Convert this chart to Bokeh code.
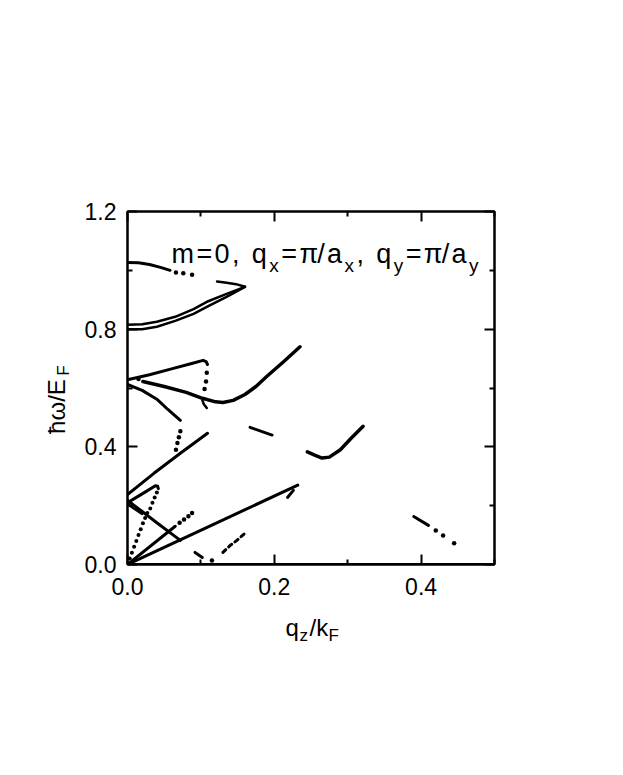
from math import pi
from bokeh.plotting import figure
from bokeh.layouts import row, column
from bokeh.models import Range1d, LinearAxis, FixedTicker, Label, PrintfTickFormatter
from bokeh.embed import file_html
from bokeh.resources import INLINE

# ---------------- data (q_z/k_F , hbar*omega/E_F) ----------------
top_q = [0.0, 0.015, 0.03, 0.045, 0.058]
top_w = [1.027, 1.026, 1.02, 1.01, 1.0]
top_dots_q = [0.066, 0.076, 0.088]
top_dots_w = [0.993, 0.99, 0.985]
tip_q = [0.122, 0.135, 0.148, 0.160]
tip_w = [0.962, 0.958, 0.953, 0.944]

pairA_q = [0.0, 0.02, 0.04, 0.065, 0.09, 0.11, 0.135, 0.16]
pairA_w = [0.815, 0.817, 0.825, 0.842, 0.868, 0.895, 0.92, 0.944]
pairB_q = [0.0, 0.02, 0.04, 0.065, 0.09, 0.11, 0.135, 0.16]
pairB_w = [0.80, 0.80, 0.808, 0.828, 0.852, 0.878, 0.91, 0.944]

rise_q = [0.0, 0.03, 0.06, 0.09, 0.103, 0.107, 0.109]
rise_w = [0.628, 0.645, 0.665, 0.685, 0.694, 0.69, 0.68]
rise_dots_q = [0.108, 0.107, 0.105]
rise_dots_w = [0.652, 0.622, 0.597]

fall_q = [0.0, 0.02, 0.04, 0.055, 0.065, 0.072]
fall_w = [0.612, 0.592, 0.562, 0.527, 0.505, 0.49]
fall_dots_q = [0.072, 0.070, 0.068, 0.066]
fall_dots_w = [0.453, 0.433, 0.413, 0.39]

min1_q = [0.021, 0.05, 0.08, 0.102, 0.12, 0.13, 0.144, 0.16, 0.175, 0.19, 0.213, 0.235]
min1_w = [0.622, 0.605, 0.585, 0.565, 0.553, 0.551, 0.558, 0.578, 0.605, 0.64, 0.69, 0.74]
hook_q = [0.102, 0.104, 0.108]
hook_w = [0.558, 0.545, 0.532]
lone_dot_q = [0.015]
lone_dot_w = [0.631]

lin24_q = [0.0, 0.036, 0.072, 0.109]
lin24_w = [0.238, 0.31, 0.378, 0.446]

b21_q = [0.0, 0.02, 0.038, 0.041, 0.042]
b21_w = [0.21, 0.24, 0.268, 0.266, 0.258]
b21_dots_q = [0.040, 0.037, 0.034, 0.031, 0.027, 0.024, 0.021, 0.018, 0.015, 0.012, 0.009, 0.006, 0.003]
b21_dots_w = [0.245, 0.228, 0.21, 0.19, 0.175, 0.158, 0.14, 0.12, 0.1, 0.08, 0.06, 0.04, 0.02]

desc_q = [0.0, 0.02, 0.04, 0.072]
desc_w = [0.218, 0.18, 0.142, 0.082]
desc2_q = [0.0, 0.02]
desc2_w = [0.205, 0.172]

long_q = [0.0, 0.232]
long_w = [0.0, 0.27]
short_q = [0.218, 0.226]
short_w = [0.228, 0.252]

steep_q = [0.0, 0.065]
steep_w = [0.0, 0.13]
steep_dots_q = [0.071, 0.077, 0.083, 0.088]
steep_dots_w = [0.142, 0.153, 0.164, 0.175]

dd_q = [0.130, 0.140, 0.149, 0.160]
dd_w = [0.041, 0.065, 0.082, 0.106]
sd_q = [0.092, 0.102]
sd_w = [0.041, 0.024]
sd_dot_q = [0.115]
sd_dot_w = [0.014]

dash_q = [0.167, 0.197]
dash_w = [0.466, 0.44]

min2_q = [0.245, 0.255, 0.265, 0.275, 0.29, 0.305, 0.321]
min2_w = [0.383, 0.372, 0.362, 0.365, 0.39, 0.43, 0.47]

br_q = [0.39, 0.41]
br_w = [0.163, 0.133]
br_dots_q = [0.42, 0.43, 0.445]
br_dots_w = [0.116, 0.099, 0.072]

base_q = [0.0, 0.5]
base_w = [0.0, 0.0]

x_major = [0.0, 0.2, 0.4]
x_minor = [0.1, 0.3, 0.5]
y_major = [0.0, 0.4, 0.8, 1.2]
y_minor = [0.2, 0.6, 1.0]

FONT = "Liberation Sans"
BASE_FIX = 0.33          # alphabetic-baseline correction (em)

# layout: [ylabel strip | main plot] over [xlabel strip]
YW, TOPH = 75, 615
PW = 540
XH = 135
FT, FB = 211, 564        # frame top / bottom on the page

p = figure(width=PW, height=TOPH, output_backend="svg", toolbar_location=None,
           x_range=Range1d(0, 0.5), y_range=Range1d(0, 1.2),
           min_border_left=52, min_border_right=PW - 52 - 367,
           min_border_top=FT, min_border_bottom=TOPH - FB)
p.grid.visible = False
p.outline_line_color = "black"
p.outline_line_width = 2
p.background_fill_color = "white"
p.border_fill_color = "white"

def style_axis(ax, major, minor, labels=True):
    ax.ticker = FixedTicker(ticks=major, minor_ticks=minor)
    ax.axis_line_width = 2
    ax.axis_line_color = "black"
    ax.major_tick_in = 10
    ax.major_tick_out = 0
    ax.minor_tick_in = 5
    ax.minor_tick_out = 0
    ax.major_tick_line_width = 2
    ax.minor_tick_line_width = 2
    ax.major_tick_line_color = "black"
    ax.minor_tick_line_color = "black"
    ax.major_label_text_font = FONT
    ax.major_label_text_font_size = "23px"
    ax.major_label_text_color = "black" if labels else None
    ax.formatter = PrintfTickFormatter(format="%.1f")
    ax.axis_label = None

xb = p.below[0]
yl = p.left[0]
style_axis(xb, x_major, x_minor)
xb.major_label_standoff = 13
style_axis(yl, y_major, y_minor)
yl.major_label_standoff = 11
yl.major_label_orientation = "horizontal"

top_ax = LinearAxis()
style_axis(top_ax, x_major, x_minor, labels=False)
p.add_layout(top_ax, "above")
right_ax = LinearAxis()
style_axis(right_ax, y_major, y_minor, labels=False)
p.add_layout(right_ax, "right")

def ln(q, w, lw=3, dash="solid"):
    p.line(q, w, line_width=lw, color="black", line_cap="round",
           line_join="round", line_dash=dash)

def dots(q, w, s=4.5):
    p.scatter(q, w, size=s, color="black", line_width=0)

ln(base_q, base_w, lw=3)
ln(top_q, top_w); dots(top_dots_q, top_dots_w); ln(tip_q, tip_w, lw=2.5)
ln(pairA_q, pairA_w, lw=2.5); ln(pairB_q, pairB_w, lw=2.5)
ln(rise_q, rise_w); dots(rise_dots_q, rise_dots_w)
ln(fall_q, fall_w); dots(fall_dots_q, fall_dots_w)
ln(min1_q, min1_w, lw=3.5); ln(hook_q, hook_w, lw=2.5); dots(lone_dot_q, lone_dot_w)
ln(lin24_q, lin24_w)
ln(b21_q, b21_w); dots(b21_dots_q, b21_dots_w, 4)
ln(desc_q, desc_w); ln(desc2_q, desc2_w, lw=2.5)
ln(long_q, long_w); ln(short_q, short_w)
ln(steep_q, steep_w); dots(steep_dots_q, steep_dots_w)
ln(dd_q, dd_w, dash="4 4"); ln(sd_q, sd_w); dots(sd_dot_q, sd_dot_w)
ln(dash_q, dash_w)
ln(min2_q, min2_w, lw=3.5)
ln(br_q, br_w); dots(br_dots_q, br_dots_w)

# ---------- in-plot annotation (frame-relative screen pixels) ----------
FX0 = 127.0

def plot_lab(txt, px, py, size):
    p.add_layout(Label(x=px - FX0, y=FB - py + BASE_FIX * size,
                       x_units="screen", y_units="screen",
                       text=txt, text_font=FONT, text_font_size=f"{size}px",
                       text_color="black", text_baseline="alphabetic",
                       text_align="left"))

ADV = {"m": .833, "=": .584, "0": .556, ",": .278, " ": .278, "q": .556,
       "x": .5, "y": .5, "π": .57, "/": .278, "a": .556}
M, S = 27, 19
runs = [("m", M), ("=", M), ("0", M), (",", M), (" ", M), ("q", M), ("x", S),
        ("=", M), ("π", M), ("/", M), ("a", M), ("x", S), (",", M), (" ", M),
        ("q", M), ("y", S), ("=", M), ("π", M), ("/", M), ("a", M), ("y", S)]
x_start, x_end = 171.0, 478.0
natural = sum(ADV[c] * s for c, s in runs)
track = (x_end - x_start - natural) / (len(runs) - 1)
cx = x_start
for c, s in runs:
    if c != " ":
        plot_lab(c, cx, 262 if s == M else 271, s)
    cx += ADV[c] * s + track

# ---------- axis-title strips ----------
def strip(w, h, yr, bt=0, bb=0):
    f = figure(width=w, height=h, output_backend="svg", toolbar_location=None,
               x_range=Range1d(0, w), y_range=yr,
               x_axis_location=None, y_axis_location=None,
               min_border_left=0, min_border_right=0,
               min_border_top=bt, min_border_bottom=bb)
    f.grid.visible = False
    f.outline_line_color = None
    f.background_fill_color = "white"
    f.border_fill_color = "white"
    return f

# y strip: frame shares the main plot's rows (page y FT..FB); data y = page y
yfig = strip(YW, TOPH, Range1d(FB, FT), bt=FT, bb=TOPH - FB)
# x strip: data y = page y (top of strip at TOPH)
xfig = strip(YW + PW, XH, Range1d(TOPH + XH, TOPH))

def xstrip_lab(txt, px, py, size):
    xfig.add_layout(Label(x=px, y=py - BASE_FIX * size,
                          text=txt, text_font=FONT, text_font_size=f"{size}px",
                          text_color="black", text_baseline="alphabetic",
                          text_align="left"))

def ystrip_lab(txt, cx_px, cy_px, size):
    yfig.add_layout(Label(x=cx_px, y=cy_px, text=txt, text_font=FONT,
                          text_font_size=f"{size}px", text_color="black",
                          text_baseline="middle", text_align="center",
                          angle=pi / 2))

# x-axis title q_z/k_F
for t, px, py, s in [("q", 285, 635, 24), ("z", 299, 641, 17),
                     ("/k", 309, 635, 24), ("F", 328, 641, 17)]:
    xstrip_lab(t, px, py, s)
# y-axis title ħω/E_F (reads upward)
ystrip_lab("ħω/E", 56, 406, 24)
ystrip_lab("F", 63, 370, 17)

layout = column(row(yfig, p, spacing=0), xfig, spacing=0)
open("out.html", "w").write(file_html(layout, INLINE))
